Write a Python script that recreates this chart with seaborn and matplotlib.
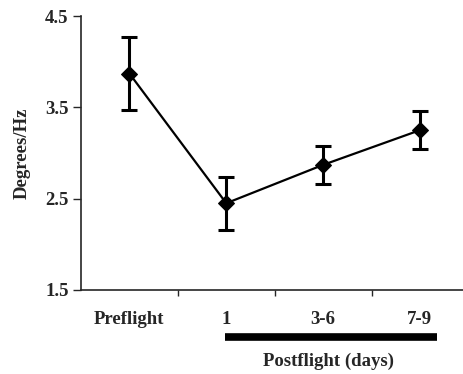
import numpy as np
import pandas as pd
import matplotlib
matplotlib.use('Agg')
import matplotlib.pyplot as plt
import seaborn as sns

# values
groups = ['Preflight', '1', '3-6', '7-9']
means = [3.87, 2.45, 2.87, 3.25]
errs = [0.40, 0.29, 0.21, 0.21]

df = pd.DataFrame({'pos': np.arange(len(groups)), 'group': groups,
                   'mean': means, 'err': errs})

sns.set_style('ticks')
plt.rcParams['font.family'] = ['Liberation Serif', 'DejaVu Serif']
plt.rcParams['font.weight'] = 'bold'

fig = plt.figure(figsize=(4.63, 3.74), dpi=100)
ax = fig.add_axes([0.175, 0.2246, 0.824, 0.7326])

ax.errorbar(df['pos'], df['mean'], yerr=df['err'], fmt='none',
            ecolor='black', elinewidth=2.2, capsize=5.5, capthick=2.2, zorder=2)
sns.lineplot(data=df, x='pos', y='mean', ax=ax, color='black', linewidth=1.6,
             marker='D', markersize=8, markeredgecolor='black', zorder=3)

fs = 13.5
ax.set_xlim(-0.5, 3.44)
ax.set_ylim(1.5, 4.5)
ax.set_yticks([1.5, 2.5, 3.5, 4.5])
ax.set_yticklabels(['1.5', '2.5', '3.5', '4.5'], fontsize=fs, fontweight='bold')
ax.set_xticks(df['pos'])
ax.set_xticklabels(groups, fontsize=fs, fontweight='bold')
ax.tick_params(axis='x', which='major', length=0, pad=15)
ax.set_xticks([0.5, 1.5, 2.5], minor=True)
ax.tick_params(axis='x', which='minor', length=4, width=1, direction='out')
ax.tick_params(axis='y', length=6, width=1, direction='out', pad=3)

ax.set_xlabel('')
ax.set_ylabel('Degrees/Hz', fontsize=fs, fontweight='bold', labelpad=10)

for s in ['top', 'right']:
    ax.spines[s].set_visible(False)
for s in ['left', 'bottom']:
    ax.spines[s].set_linewidth(1.2)

# postflight bar and label
ax.plot([0.99, 3.18], [-0.17, -0.17], color='black', linewidth=5.5,
        transform=ax.get_xaxis_transform(), clip_on=False, solid_capstyle='butt')
ax.text(2.06, -0.26, 'Postflight (days)', transform=ax.get_xaxis_transform(),
        ha='center', va='center', fontsize=fs, fontweight='bold')

fig.savefig('out.png', dpi=100)
